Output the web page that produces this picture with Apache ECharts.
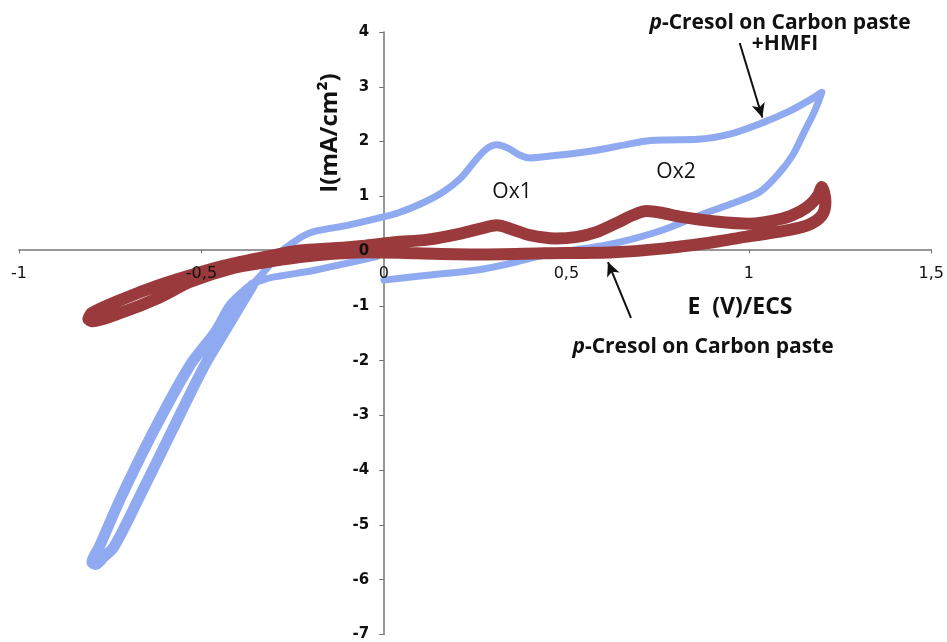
<!DOCTYPE html>
<html>
<head>
<meta charset="utf-8">
<script src="https://cdn.jsdelivr.net/npm/echarts@6/dist/echarts.min.js"></script>
<style>
  html, body { margin: 0; padding: 0; background: #fff; }
  #chart { width: 947px; height: 642px; }
</style>
</head>
<body>
<div id="chart"></div>
<script>
// p-Cresol on carbon paste + HMFI (blue loop), E in V, I in mA/cm2
const blueE = [0.00, 0.12, 0.26, 0.35, 0.42, 0.50, 0.60, 0.68, 0.77, 0.86, 0.95, 1.03, 1.08, 1.12, 1.15, 1.18, 1.20,
  1.17, 1.11, 1.04, 0.95, 0.86, 0.78, 0.73, 0.66, 0.59, 0.53, 0.45, 0.40, 0.37, 0.34, 0.31, 0.28, 0.25, 0.21, 0.16, 0.10, 0.04,
  -0.01, -0.10, -0.19, -0.22, -0.25, -0.28, -0.32, -0.37, -0.42, -0.46, -0.53, -0.63, -0.72, -0.78, -0.80,
  -0.79, -0.77, -0.74, -0.67, -0.58, -0.49, -0.43, -0.39, -0.36, -0.32, -0.28, -0.19, -0.10, -0.02];
const blueI = [-0.53, -0.44, -0.34, -0.22, -0.10, 0.00, 0.10, 0.22, 0.40, 0.64, 0.86, 1.08, 1.40, 1.75, 2.15, 2.55, 2.90,
  2.77, 2.55, 2.35, 2.14, 2.04, 2.03, 2.02, 1.94, 1.85, 1.79, 1.73, 1.70, 1.76, 1.88, 1.94, 1.86, 1.65, 1.33, 1.07, 0.86, 0.70,
  0.61, 0.47, 0.36, 0.28, 0.15, 0.00, -0.31, -0.68, -1.00, -1.46, -2.07, -3.27, -4.49, -5.40, -5.68,
  -5.72, -5.60, -5.40, -4.49, -3.27, -2.07, -1.40, -0.95, -0.62, -0.50, -0.45, -0.35, -0.22, -0.10];

// p-Cresol on carbon paste (red loop)
const redE = [-0.81, -0.80, -0.71, -0.62, -0.53, -0.44, -0.32, -0.23, -0.14, -0.05, 0.03, 0.12, 0.21, 0.27, 0.31, 0.35, 0.40,
  0.47, 0.53, 0.58, 0.64, 0.68, 0.72, 0.76, 0.81, 0.91, 1.00, 1.09, 1.14, 1.17, 1.19, 1.20,
  1.21, 1.20, 1.16, 1.08, 0.99, 0.91, 0.77, 0.63, 0.44, 0.26, 0.09, -0.05, -0.14, -0.23, -0.32, -0.42, -0.53, -0.62, -0.71, -0.80, -0.81];
const redI = [-1.24, -1.13, -0.86, -0.63, -0.44, -0.27, -0.10, 0.01, 0.05, 0.10, 0.16, 0.21, 0.32, 0.42, 0.47, 0.40, 0.29,
  0.23, 0.26, 0.34, 0.52, 0.65, 0.73, 0.70, 0.63, 0.54, 0.50, 0.59, 0.72, 0.86, 1.02, 1.17,
  0.90, 0.65, 0.47, 0.35, 0.26, 0.17, 0.05, -0.02, -0.04, -0.06, -0.04, -0.02, -0.05, -0.11, -0.20, -0.32, -0.56, -0.86, -1.10, -1.28, -1.24];

const xTicks = { min: -1, max: 1.5, step: 0.5 };
const yTicks = { min: -7, max: 4, step: 1 };

// arrow annotations [from, to] in data units
const arrowHMFI = [[0.975, 3.80], [1.037, 2.44]];
const arrowCP = [[0.677, -1.22], [0.614, -0.20]];

const W = 947, H = 642;
const grid = { left: 19, right: 15, top: 32, bottom: 5 };
const gridW = W - grid.left - grid.right;
const gridH = H - grid.top - grid.bottom;
// axes cross at (0,0): shift them from the grid edge, labels follow
const xAxisShift = -gridH * (0 - yTicks.min) / (yTicks.max - yTicks.min);
const yAxisShift = -gridW * (0 - xTicks.min) / (xTicks.max - xTicks.min);

const chart = echarts.init(document.getElementById('chart'));

const pairs = (xs, ys) => xs.map((x, i) => [x, ys[i]]);
const comma = v => String(v).replace('.', ',');
const txtFont = '"Open Sans", Lato, sans-serif';
const tickFont = '"DejaVu Sans", Verdana, sans-serif';

const bluePts = pairs(blueE, blueI);
// the cathodic lobe is traced much thicker in the original
const blueLobe = bluePts.filter(p => p[1] < -0.6);

// axis line sits under the curves, tick labels are printed over them
const xBase = {
  type: 'value', position: 'bottom',
  min: xTicks.min, max: xTicks.max, interval: xTicks.step,
  offset: xAxisShift,
  splitLine: { show: false }
};
const yBase = {
  type: 'value', position: 'left',
  min: yTicks.min, max: yTicks.max, interval: yTicks.step,
  offset: yAxisShift,
  splitLine: { show: false }
};

const option = {
  animation: false,
  backgroundColor: '#fff',
  grid: Object.assign({ containLabel: false }, grid),
  xAxis: [
    Object.assign({}, xBase, {
      axisLine: { onZero: false, lineStyle: { color: '#777', width: 1.5 } },
      axisTick: { show: true, length: 4, lineStyle: { color: '#777' } },
      axisLabel: { show: false }
    }),
    Object.assign({}, xBase, {
      z: 10,
      axisLine: { show: false, onZero: false },
      axisTick: { show: false },
      axisLabel: { margin: 16, fontFamily: tickFont, fontSize: 16, color: '#111', formatter: comma }
    })
  ],
  yAxis: [
    Object.assign({}, yBase, {
      axisLine: { onZero: false, lineStyle: { color: '#777', width: 1.5 } },
      axisTick: { show: true, length: 5, lineStyle: { color: '#777' } },
      axisLabel: { show: false }
    }),
    Object.assign({}, yBase, {
      z: 10,
      axisLine: { show: false, onZero: false },
      axisTick: { show: false },
      axisLabel: { margin: 15, fontFamily: tickFont, fontSize: 15, fontWeight: 'bold', color: '#111', formatter: comma }
    })
  ],
  series: [
    {
      name: 'p-Cresol on Carbon paste +HMFI',
      type: 'line',
      data: bluePts,
      showSymbol: false,
      symbol: 'none',
      smooth: 0.3,
      lineStyle: { color: '#8faaf0', width: 7, cap: 'round', join: 'round' },
      z: 2,
      markLine: {
        silent: true,
        symbol: ['none', 'arrow'],
        symbolSize: [10, 14],
        label: { show: false },
        lineStyle: { color: '#111', width: 2, type: 'solid' },
        data: [
          [{ coord: arrowHMFI[0] }, { coord: arrowHMFI[1] }],
          [{ coord: arrowCP[0] }, { coord: arrowCP[1] }]
        ]
      }
    },
    {
      name: 'HMFI lobe',
      type: 'line',
      data: blueLobe,
      showSymbol: false,
      symbol: 'none',
      smooth: 0.3,
      lineStyle: { color: '#8faaf0', width: 11, cap: 'round', join: 'round' },
      z: 2
    },
    {
      name: 'p-Cresol on Carbon paste',
      type: 'line',
      data: pairs(redE, redI),
      showSymbol: false,
      symbol: 'none',
      smooth: 0.3,
      lineStyle: { color: '#9b3a3c', width: 12, cap: 'round', join: 'round' },
      z: 3
    }
  ],
  graphic: [
    {
      type: 'text', x: 330, y: 133, rotation: Math.PI / 2,
      style: { text: 'I(mA/cm²)', font: 'bold 24px ' + txtFont, fill: '#111', textAlign: 'center', textVerticalAlign: 'middle' }
    },
    {
      type: 'text', x: 740, y: 307,
      style: { text: 'E  (V)/ECS', font: 'bold 23px ' + txtFont, fill: '#111', textAlign: 'center', textVerticalAlign: 'middle' }
    },
    {
      type: 'text', x: 780, y: 23,
      style: {
        text: '{i|p}-Cresol on Carbon paste',
        font: 'bold 21px ' + txtFont, fill: '#111', align: 'center', verticalAlign: 'middle',
        rich: { i: { font: 'italic bold 21px ' + txtFont, fill: '#111' } }
      }
    },
    {
      type: 'text', x: 785, y: 44,
      style: { text: '+HMFI', font: 'bold 21px ' + txtFont, fill: '#111', textAlign: 'center', textVerticalAlign: 'middle' }
    },
    {
      type: 'text', x: 703, y: 347,
      style: {
        text: '{i|p}-Cresol on Carbon paste',
        font: 'bold 21px ' + txtFont, fill: '#111', align: 'center', verticalAlign: 'middle',
        rich: { i: { font: 'italic bold 21px ' + txtFont, fill: '#111' } }
      }
    },
    {
      type: 'text', x: 512, y: 192,
      style: { text: 'Ox1', font: '21px ' + txtFont, fill: '#111', textAlign: 'center', textVerticalAlign: 'middle' }
    },
    {
      type: 'text', x: 676, y: 172,
      style: { text: 'Ox2', font: '21px ' + txtFont, fill: '#111', textAlign: 'center', textVerticalAlign: 'middle' }
    }
  ]
};

chart.setOption(option);
window.addEventListener('resize', () => chart.resize());
</script>
</body>
</html>
